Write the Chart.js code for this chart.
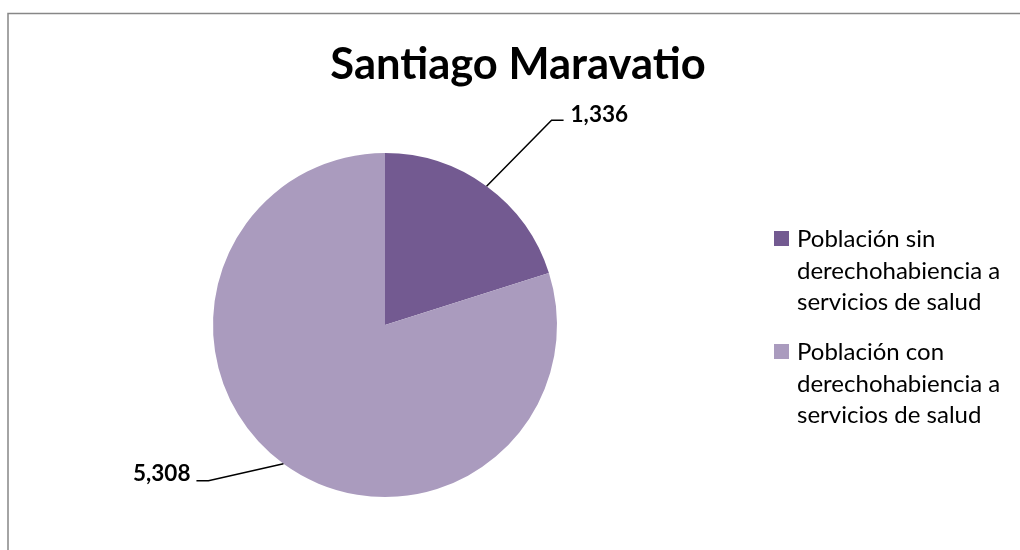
<!DOCTYPE html>
<html>
<head>
<meta charset="utf-8">
<script src="https://cdn.jsdelivr.net/npm/chart.js@4.4.0/dist/chart.umd.min.js"></script>
<style>
  body { margin: 0; background: #fff; }
  #wrap { width: 1020px; height: 550px; }
</style>
</head>
<body>
<div id="wrap"><canvas id="myChart" width="1020" height="550"></canvas></div>
<script>
// Chart data
const chartTitle = 'Santiago Maravatio';
const categories = [
    ['Población sin', 'derechohabiencia a', 'servicios de salud'],
    ['Población con', 'derechohabiencia a', 'servicios de salud']
];
const values = [1336, 5308];
const valueLabels = ['1,336', '5,308'];
const sliceColors = ['#735A91', '#AA9BBE'];

// where each data label sits relative to its slice edge (elbow dx, dy, tail)
const labelOffsets = [
    { dx: 65, dy: -66, tail: 12 },
    { dx: -75, dy: 17, tail: -12 }
];

const fontFamily = 'Lato, "Open Sans", sans-serif';

// draws border, title, data labels with leader lines and legend
const decorations = {
    id: 'decorations',
    afterDraw(chart) {
        const ctx = chart.ctx;
        ctx.save();

        // outer chart border (cropped at right and bottom)
        ctx.strokeStyle = '#878787';
        ctx.lineWidth = 1.5;
        ctx.beginPath();
        ctx.moveTo(8, 550);
        ctx.lineTo(8, 13.5);
        ctx.lineTo(1020, 13.5);
        ctx.stroke();

        // title
        ctx.fillStyle = '#000';
        ctx.font = 'bold 43.5px ' + fontFamily;
        ctx.textAlign = 'center';
        ctx.textBaseline = 'alphabetic';
        ctx.fillText(chartTitle, 518, 79);

        // data labels
        const meta = chart.getDatasetMeta(0);
        ctx.font = 'bold 22.5px ' + fontFamily;
        ctx.strokeStyle = '#000';
        ctx.lineWidth = 1.5;
        meta.data.forEach((arc, i) => {
            const mid = (arc.startAngle + arc.endAngle) / 2;
            const ax = arc.x + Math.cos(mid) * arc.outerRadius;
            const ay = arc.y + Math.sin(mid) * arc.outerRadius;
            const off = labelOffsets[i];
            const ex = ax + off.dx;
            const ey = ay + off.dy;
            const tx = ex + off.tail;
            ctx.beginPath();
            ctx.moveTo(ax, ay);
            ctx.lineTo(ex, ey);
            ctx.lineTo(tx, ey);
            ctx.stroke();
            ctx.textAlign = off.tail > 0 ? 'left' : 'right';
            ctx.textBaseline = 'alphabetic';
            const ty = off.tail > 0 ? ey + 2 : ey;
            ctx.fillText(valueLabels[i], tx + (off.tail > 0 ? 7 : -6), ty);
        });

        // legend
        ctx.font = '24px ' + fontFamily;
        ctx.textAlign = 'left';
        ctx.textBaseline = 'alphabetic';
        let y = 247;
        categories.forEach((lines, i) => {
            ctx.fillStyle = sliceColors[i];
            ctx.fillRect(774, y - 16, 15, 15);
            ctx.fillStyle = '#000';
            lines.forEach((line, j) => {
                ctx.fillText(line, 797, y + j * 31.5);
            });
            y += 113;
        });

        ctx.restore();
    }
};

const data = {
    labels: categories,
    datasets: [{
        data: values,
        backgroundColor: sliceColors,
        borderWidth: 0
    }]
};

const config = {
    type: 'pie',
    data: data,
    options: {
        responsive: false,
        animation: false,
        layout: {
            padding: { left: 213, right: 463, top: 153, bottom: 53 }
        },
        plugins: {
            legend: { display: false },
            title: { display: false },
            tooltip: { enabled: false }
        }
    },
    plugins: [decorations]
};

// Render the chart
var myChart = new Chart(
    document.getElementById('myChart'),
    config
);
</script>
</body>
</html>
